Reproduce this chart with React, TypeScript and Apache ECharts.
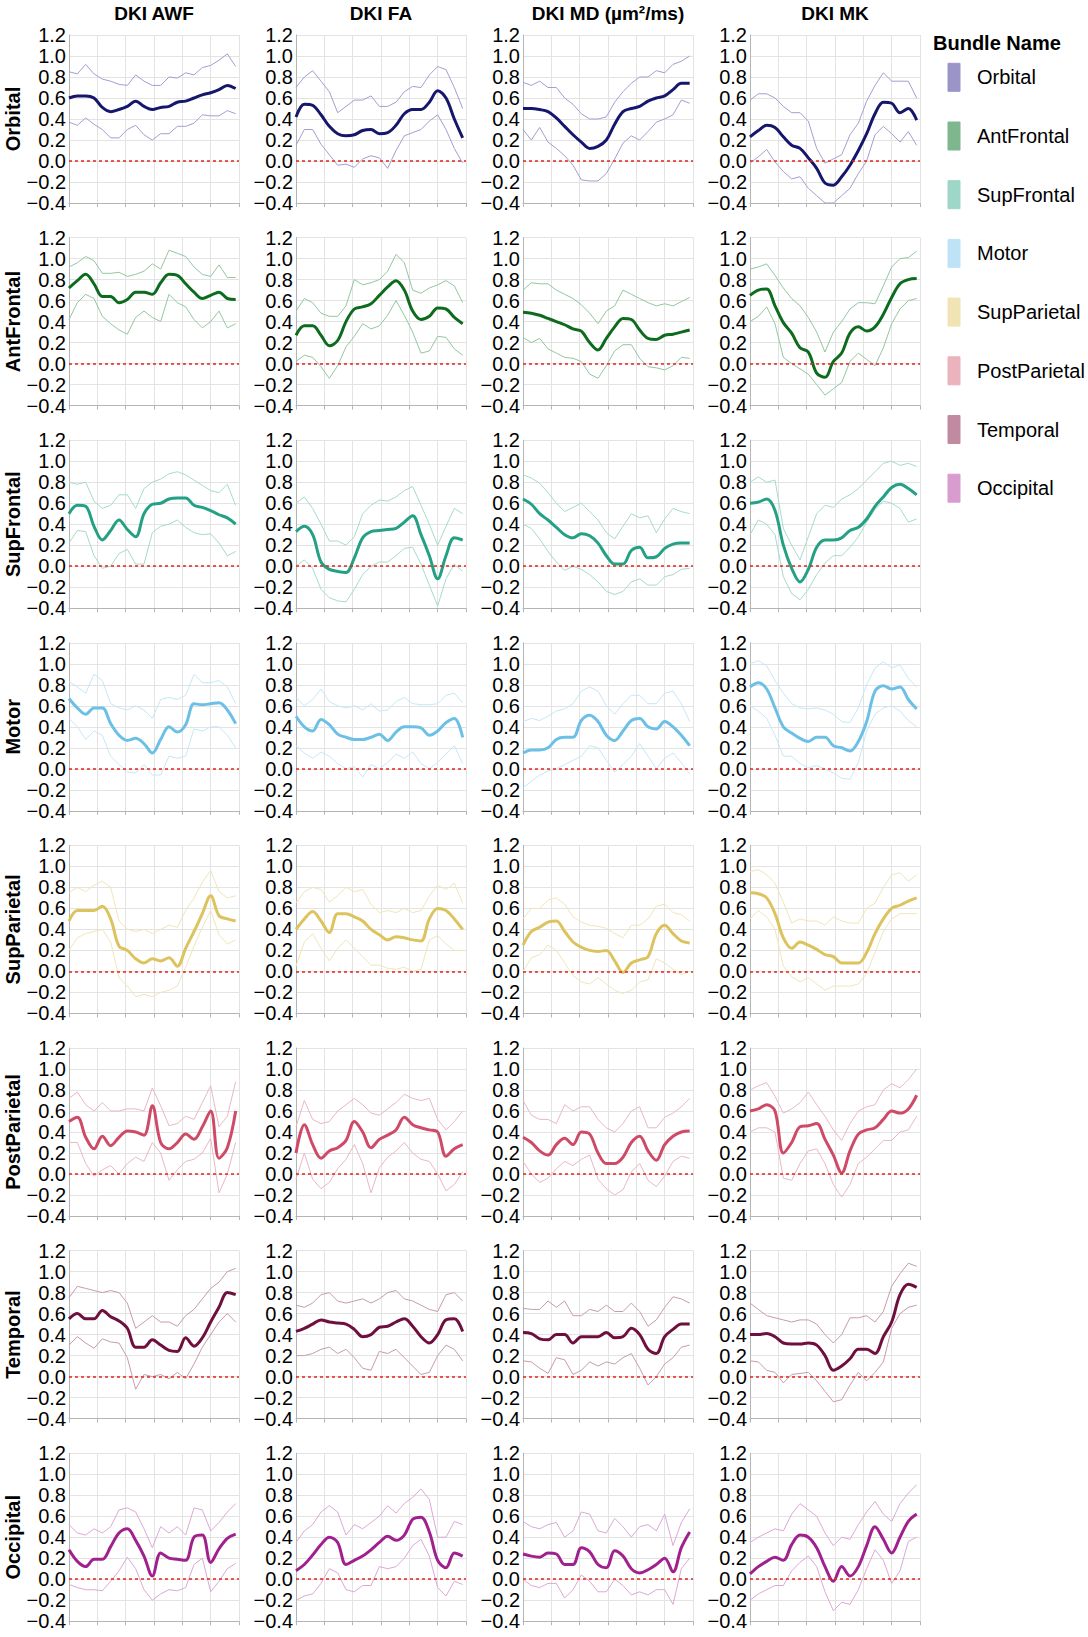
import React, { useEffect, useRef } from "react";
import * as echarts from "echarts";

// x positions along the tract (node position, % of profile)
const nodePositions = [0, 5, 10, 15, 20, 25, 30, 35, 40, 45, 50, 55, 60, 65, 70, 75, 80, 85, 90, 95, 100];

const bundleNames = ["Orbital", "AntFrontal", "SupFrontal", "Motor", "SupParietal", "PostParietal", "Temporal", "Occipital"];
const metricTitles = ["DKI AWF", "DKI FA", "DKI MD (µm²/ms)", "DKI MK"];

const meanColors = ["#16166c", "#0d6b1e", "#24a084", "#6cc0e6", "#dcc35e", "#cf4a67", "#6e0f3e", "#a0218d"];
const bandColors = ["#a29fcf", "#93c7a0", "#a6dacc", "#c6e7f6", "#efe6ba", "#e9b8c2", "#c69cad", "#dca8d5"];
const swatchColors = ["#9b94c9", "#7eb68d", "#9ed6c8", "#bfe3f6", "#f0e4b4", "#eab3bd", "#c28aa1", "#d89ccf"];

// ---- Orbital ----
const orbitalAwfMean = [0.60, 0.62, 0.62, 0.60, 0.51, 0.47, 0.49, 0.52, 0.57, 0.52, 0.49, 0.51, 0.52, 0.56, 0.57, 0.60, 0.63, 0.65, 0.68, 0.72, 0.69];
const orbitalAwfUpper = [0.85, 0.83, 0.92, 0.83, 0.78, 0.76, 0.73, 0.72, 0.82, 0.76, 0.72, 0.72, 0.80, 0.79, 0.84, 0.82, 0.89, 0.91, 0.96, 1.02, 0.90];
const orbitalAwfLower = [0.37, 0.34, 0.41, 0.35, 0.30, 0.22, 0.22, 0.30, 0.34, 0.25, 0.20, 0.26, 0.26, 0.33, 0.33, 0.36, 0.44, 0.43, 0.43, 0.48, 0.45];
const orbitalFaMean = [0.42, 0.54, 0.53, 0.44, 0.33, 0.26, 0.24, 0.25, 0.29, 0.30, 0.26, 0.27, 0.34, 0.45, 0.49, 0.49, 0.56, 0.67, 0.60, 0.40, 0.22];
const orbitalFaUpper = [0.70, 0.80, 0.86, 0.76, 0.66, 0.46, 0.52, 0.58, 0.58, 0.62, 0.52, 0.52, 0.56, 0.66, 0.71, 0.70, 0.82, 0.90, 0.87, 0.70, 0.50];
const orbitalFaLower = [0.15, 0.30, 0.30, 0.16, 0.06, -0.04, -0.03, -0.06, 0.02, 0.05, 0.03, -0.07, 0.10, 0.24, 0.27, 0.30, 0.38, 0.44, 0.30, 0.12, -0.02];
const orbitalMdMean = [0.50, 0.50, 0.49, 0.47, 0.41, 0.33, 0.25, 0.18, 0.12, 0.14, 0.20, 0.35, 0.47, 0.50, 0.52, 0.57, 0.60, 0.62, 0.68, 0.74, 0.74];
const orbitalMdUpper = [0.75, 0.72, 0.76, 0.70, 0.70, 0.60, 0.54, 0.45, 0.40, 0.40, 0.42, 0.56, 0.66, 0.74, 0.80, 0.80, 0.86, 0.84, 0.92, 0.95, 1.00];
const orbitalMdLower = [0.30, 0.20, 0.32, 0.18, 0.12, 0.05, -0.04, -0.18, -0.19, -0.19, -0.12, 0.02, 0.17, 0.24, 0.20, 0.28, 0.37, 0.40, 0.44, 0.58, 0.55];
const orbitalMkMean = [0.23, 0.29, 0.34, 0.32, 0.23, 0.15, 0.12, 0.03, -0.07, -0.21, -0.23, -0.15, -0.04, 0.10, 0.26, 0.45, 0.56, 0.55, 0.46, 0.50, 0.39];
const orbitalMkUpper = [0.58, 0.64, 0.64, 0.60, 0.52, 0.46, 0.46, 0.38, 0.12, -0.02, 0.02, 0.06, 0.25, 0.36, 0.57, 0.72, 0.84, 0.76, 0.76, 0.76, 0.60];
const orbitalMkLower = [-0.02, 0.04, 0.11, -0.01, -0.10, -0.17, -0.15, -0.26, -0.33, -0.40, -0.40, -0.33, -0.26, -0.12, 0.00, 0.25, 0.33, 0.26, 0.18, 0.28, 0.15];

// ---- AntFrontal ----
const antFrontalAwfMean = [0.72, 0.79, 0.85, 0.76, 0.64, 0.64, 0.58, 0.61, 0.68, 0.68, 0.66, 0.77, 0.85, 0.84, 0.76, 0.68, 0.62, 0.65, 0.68, 0.62, 0.61];
const antFrontalAwfUpper = [0.92, 0.96, 1.02, 0.98, 0.86, 0.86, 0.87, 0.83, 0.85, 0.88, 0.95, 0.90, 1.08, 1.05, 1.02, 0.92, 0.85, 0.83, 0.94, 0.82, 0.82];
const antFrontalAwfLower = [0.42, 0.58, 0.66, 0.62, 0.45, 0.38, 0.32, 0.28, 0.44, 0.50, 0.44, 0.40, 0.66, 0.58, 0.54, 0.42, 0.34, 0.40, 0.50, 0.34, 0.38];
const antFrontalFaMean = [0.27, 0.36, 0.36, 0.27, 0.17, 0.22, 0.40, 0.52, 0.54, 0.57, 0.65, 0.73, 0.79, 0.70, 0.50, 0.42, 0.45, 0.53, 0.52, 0.44, 0.38];
const antFrontalFaUpper = [0.50, 0.62, 0.58, 0.48, 0.45, 0.45, 0.55, 0.80, 0.75, 0.77, 0.80, 0.88, 1.04, 0.96, 0.70, 0.67, 0.72, 0.75, 0.79, 0.74, 0.58];
const antFrontalFaLower = [0.02, 0.08, 0.06, -0.03, -0.14, -0.02, 0.16, 0.26, 0.38, 0.33, 0.36, 0.46, 0.60, 0.46, 0.30, 0.10, 0.12, 0.26, 0.25, 0.14, 0.08];
const antFrontalMdMean = [0.49, 0.48, 0.46, 0.43, 0.40, 0.37, 0.33, 0.31, 0.20, 0.13, 0.24, 0.35, 0.43, 0.42, 0.32, 0.24, 0.23, 0.27, 0.28, 0.30, 0.32];
const antFrontalMdUpper = [0.70, 0.77, 0.76, 0.76, 0.70, 0.66, 0.62, 0.56, 0.48, 0.38, 0.50, 0.55, 0.70, 0.66, 0.62, 0.58, 0.55, 0.57, 0.55, 0.59, 0.63];
const antFrontalMdLower = [0.25, 0.20, 0.24, 0.14, 0.10, 0.06, 0.05, 0.02, -0.10, -0.14, -0.02, 0.12, 0.18, 0.18, 0.05, -0.03, -0.04, -0.06, -0.02, 0.06, 0.05];
const antFrontalMkMean = [0.65, 0.70, 0.71, 0.55, 0.39, 0.29, 0.15, 0.11, -0.09, -0.13, 0.02, 0.10, 0.29, 0.35, 0.31, 0.35, 0.47, 0.63, 0.76, 0.80, 0.81];
const antFrontalMkUpper = [0.90, 0.92, 0.95, 0.84, 0.72, 0.62, 0.55, 0.44, 0.30, 0.11, 0.30, 0.40, 0.52, 0.58, 0.58, 0.57, 0.74, 0.92, 1.00, 1.01, 1.07];
const antFrontalMkLower = [0.40, 0.45, 0.54, 0.38, 0.06, 0.00, -0.05, -0.10, -0.20, -0.30, -0.24, -0.18, 0.02, 0.10, 0.04, -0.02, 0.15, 0.38, 0.52, 0.60, 0.62];

// ---- SupFrontal ----
const supFrontalAwfMean = [0.50, 0.58, 0.57, 0.38, 0.25, 0.34, 0.44, 0.35, 0.28, 0.50, 0.59, 0.60, 0.64, 0.65, 0.65, 0.58, 0.56, 0.53, 0.49, 0.46, 0.40];
const supFrontalAwfUpper = [0.80, 0.78, 0.80, 0.62, 0.55, 0.58, 0.68, 0.68, 0.55, 0.74, 0.80, 0.83, 0.88, 0.90, 0.87, 0.82, 0.77, 0.72, 0.70, 0.78, 0.58];
const supFrontalAwfLower = [0.22, 0.34, 0.33, 0.10, -0.02, 0.00, 0.12, 0.16, 0.02, 0.02, 0.32, 0.38, 0.40, 0.44, 0.37, 0.32, 0.30, 0.31, 0.22, 0.10, 0.14];
const supFrontalFaMean = [0.33, 0.38, 0.30, 0.04, -0.03, -0.05, -0.06, 0.08, 0.27, 0.33, 0.34, 0.35, 0.36, 0.42, 0.48, 0.30, 0.10, -0.12, 0.10, 0.27, 0.25];
const supFrontalFaUpper = [0.60, 0.66, 0.55, 0.40, 0.24, 0.24, 0.20, 0.28, 0.50, 0.58, 0.63, 0.62, 0.66, 0.72, 0.76, 0.58, 0.40, 0.20, 0.38, 0.55, 0.50];
const supFrontalFaLower = [0.00, 0.06, -0.02, -0.22, -0.30, -0.33, -0.34, -0.22, -0.08, 0.00, 0.04, 0.04, 0.10, 0.17, 0.18, 0.02, -0.18, -0.38, -0.12, 0.02, -0.05];
const supFrontalMdMean = [0.64, 0.59, 0.50, 0.44, 0.37, 0.30, 0.27, 0.31, 0.29, 0.22, 0.10, 0.02, 0.02, 0.15, 0.18, 0.08, 0.09, 0.17, 0.21, 0.22, 0.22];
const supFrontalMdUpper = [0.87, 0.84, 0.79, 0.70, 0.60, 0.52, 0.56, 0.60, 0.52, 0.44, 0.32, 0.26, 0.38, 0.50, 0.46, 0.48, 0.32, 0.45, 0.55, 0.52, 0.50];
const supFrontalMdLower = [0.40, 0.36, 0.26, 0.14, 0.04, -0.04, 0.00, -0.03, -0.08, -0.15, -0.24, -0.27, -0.24, -0.15, -0.12, -0.18, -0.18, -0.10, -0.08, -0.03, -0.02];
const supFrontalMkMean = [0.60, 0.61, 0.64, 0.53, 0.20, -0.02, -0.15, -0.03, 0.18, 0.25, 0.25, 0.27, 0.34, 0.37, 0.45, 0.57, 0.66, 0.75, 0.78, 0.74, 0.68];
const supFrontalMkUpper = [0.80, 0.85, 0.80, 0.82, 0.36, 0.20, 0.06, 0.28, 0.50, 0.58, 0.56, 0.64, 0.68, 0.74, 0.82, 0.90, 0.98, 1.00, 0.96, 0.98, 0.95];
const supFrontalMkLower = [0.30, 0.44, 0.40, 0.30, -0.10, -0.26, -0.32, -0.22, -0.08, 0.03, 0.10, 0.10, 0.18, 0.28, 0.42, 0.54, 0.62, 0.60, 0.55, 0.42, 0.45];

// ---- Motor ----
const motorAwfMean = [0.67, 0.58, 0.52, 0.58, 0.58, 0.43, 0.32, 0.27, 0.29, 0.24, 0.15, 0.28, 0.40, 0.35, 0.42, 0.62, 0.61, 0.62, 0.63, 0.56, 0.43];
const motorAwfUpper = [0.83, 0.78, 0.72, 0.90, 0.84, 0.62, 0.58, 0.56, 0.60, 0.56, 0.48, 0.66, 0.68, 0.66, 0.70, 0.90, 0.82, 0.82, 0.84, 0.78, 0.62];
const motorAwfLower = [0.48, 0.40, 0.28, 0.36, 0.32, 0.12, 0.04, -0.03, -0.04, 0.04, -0.06, -0.06, 0.12, 0.10, 0.12, 0.38, 0.36, 0.40, 0.40, 0.32, 0.20];
const motorFaMean = [0.50, 0.40, 0.36, 0.47, 0.42, 0.33, 0.30, 0.28, 0.28, 0.30, 0.33, 0.27, 0.35, 0.40, 0.40, 0.39, 0.32, 0.36, 0.44, 0.48, 0.30];
const motorFaUpper = [0.68, 0.60, 0.66, 0.76, 0.64, 0.60, 0.58, 0.60, 0.56, 0.62, 0.55, 0.56, 0.64, 0.68, 0.62, 0.61, 0.61, 0.62, 0.70, 0.72, 0.63];
const motorFaLower = [0.22, 0.15, 0.10, 0.16, 0.12, 0.05, 0.00, 0.02, -0.08, 0.04, 0.00, 0.06, 0.14, 0.10, 0.16, 0.05, 0.00, 0.06, 0.14, 0.22, 0.05];
const motorMdMean = [0.15, 0.18, 0.18, 0.20, 0.28, 0.30, 0.30, 0.46, 0.51, 0.45, 0.32, 0.27, 0.36, 0.46, 0.48, 0.40, 0.38, 0.45, 0.40, 0.32, 0.22];
const motorMdUpper = [0.45, 0.48, 0.46, 0.50, 0.55, 0.57, 0.62, 0.74, 0.78, 0.74, 0.60, 0.52, 0.62, 0.70, 0.70, 0.62, 0.62, 0.72, 0.74, 0.62, 0.45];
const motorMdLower = [-0.18, -0.12, -0.06, -0.02, 0.00, 0.04, 0.08, 0.12, 0.22, 0.20, 0.08, -0.03, 0.04, 0.12, 0.24, 0.12, 0.00, 0.10, 0.15, 0.06, -0.05];
const motorMkMean = [0.78, 0.82, 0.76, 0.58, 0.40, 0.34, 0.29, 0.26, 0.30, 0.30, 0.22, 0.20, 0.17, 0.26, 0.45, 0.74, 0.79, 0.76, 0.78, 0.66, 0.57];
const motorMkUpper = [1.00, 1.03, 0.98, 0.84, 0.72, 0.62, 0.58, 0.57, 0.58, 0.56, 0.52, 0.45, 0.44, 0.58, 0.80, 0.96, 1.02, 0.96, 0.99, 0.86, 0.78];
const motorMkLower = [0.60, 0.55, 0.48, 0.32, 0.12, 0.12, 0.05, 0.01, 0.03, 0.00, -0.04, -0.09, -0.10, 0.06, 0.36, 0.52, 0.58, 0.60, 0.55, 0.46, 0.40];

// ---- SupParietal ----
const supParietalAwfMean = [0.48, 0.58, 0.58, 0.58, 0.62, 0.50, 0.24, 0.20, 0.12, 0.08, 0.12, 0.10, 0.13, 0.05, 0.22, 0.38, 0.55, 0.72, 0.53, 0.50, 0.48];
const supParietalAwfUpper = [0.75, 0.80, 0.76, 0.82, 0.86, 0.80, 0.48, 0.40, 0.38, 0.40, 0.36, 0.40, 0.44, 0.42, 0.58, 0.70, 0.85, 0.96, 0.76, 0.70, 0.72];
const supParietalAwfLower = [0.20, 0.32, 0.36, 0.38, 0.40, 0.28, -0.06, -0.14, -0.24, -0.22, -0.24, -0.20, -0.18, -0.14, 0.04, 0.24, 0.42, 0.58, 0.35, 0.26, 0.30];
const supParietalFaMean = [0.40, 0.50, 0.57, 0.48, 0.37, 0.55, 0.55, 0.52, 0.48, 0.40, 0.35, 0.30, 0.33, 0.32, 0.30, 0.29, 0.50, 0.60, 0.58, 0.50, 0.40];
const supParietalFaUpper = [0.65, 0.76, 0.80, 0.78, 0.66, 0.72, 0.80, 0.76, 0.78, 0.64, 0.56, 0.58, 0.56, 0.60, 0.56, 0.58, 0.72, 0.82, 0.78, 0.84, 0.65];
const supParietalFaLower = [0.05, 0.28, 0.36, 0.22, 0.10, 0.22, 0.30, 0.22, 0.14, 0.06, 0.06, 0.03, 0.02, 0.04, 0.00, 0.02, 0.30, 0.34, 0.26, 0.20, 0.20];
const supParietalMdMean = [0.25, 0.38, 0.42, 0.47, 0.48, 0.38, 0.28, 0.23, 0.20, 0.19, 0.20, 0.10, -0.01, 0.08, 0.11, 0.14, 0.36, 0.44, 0.36, 0.29, 0.27];
const supParietalMdUpper = [0.50, 0.60, 0.60, 0.68, 0.70, 0.64, 0.52, 0.47, 0.44, 0.43, 0.41, 0.36, 0.32, 0.44, 0.44, 0.50, 0.62, 0.64, 0.56, 0.54, 0.48];
const supParietalMdLower = [0.00, 0.13, 0.16, 0.25, 0.20, 0.08, -0.04, -0.10, -0.12, -0.06, -0.12, -0.18, -0.21, -0.18, -0.10, -0.08, 0.12, 0.08, 0.02, -0.03, 0.00];
const supParietalMkMean = [0.75, 0.74, 0.70, 0.55, 0.32, 0.22, 0.28, 0.25, 0.21, 0.16, 0.14, 0.08, 0.08, 0.08, 0.18, 0.36, 0.50, 0.60, 0.63, 0.67, 0.70];
const supParietalMkUpper = [0.95, 0.97, 0.92, 0.84, 0.66, 0.46, 0.50, 0.48, 0.48, 0.44, 0.52, 0.48, 0.46, 0.46, 0.60, 0.65, 0.80, 0.92, 0.94, 0.86, 0.92];
const supParietalMkLower = [0.50, 0.58, 0.52, 0.40, 0.05, -0.05, -0.10, -0.06, -0.12, -0.18, -0.14, -0.14, -0.14, -0.12, -0.02, 0.18, 0.38, 0.50, 0.55, 0.55, 0.55];

// ---- PostParietal ----
const postParietalAwfMean = [0.50, 0.54, 0.35, 0.24, 0.36, 0.27, 0.35, 0.41, 0.40, 0.37, 0.65, 0.30, 0.24, 0.30, 0.38, 0.33, 0.45, 0.60, 0.15, 0.25, 0.60];
const postParietalAwfUpper = [0.72, 0.78, 0.66, 0.60, 0.68, 0.60, 0.60, 0.62, 0.62, 0.60, 0.82, 0.65, 0.46, 0.48, 0.55, 0.52, 0.68, 0.84, 0.45, 0.55, 0.88];
const postParietalAwfLower = [0.30, 0.30, 0.10, -0.02, 0.04, 0.08, 0.00, 0.10, 0.16, 0.12, 0.30, 0.20, -0.06, 0.04, 0.12, 0.14, 0.20, 0.34, -0.18, 0.00, 0.30];
const postParietalFaMean = [0.20, 0.47, 0.28, 0.15, 0.22, 0.25, 0.32, 0.50, 0.40, 0.25, 0.33, 0.37, 0.42, 0.54, 0.47, 0.44, 0.42, 0.40, 0.17, 0.24, 0.28];
const postParietalFaUpper = [0.45, 0.70, 0.52, 0.48, 0.50, 0.60, 0.66, 0.72, 0.66, 0.58, 0.56, 0.62, 0.68, 0.76, 0.72, 0.70, 0.72, 0.52, 0.42, 0.50, 0.60];
const postParietalFaLower = [-0.05, 0.20, -0.05, -0.14, -0.08, 0.05, 0.14, 0.28, 0.10, -0.18, 0.06, 0.16, 0.22, 0.30, 0.20, 0.14, 0.12, 0.00, -0.16, -0.10, 0.02];
const postParietalMdMean = [0.35, 0.30, 0.22, 0.18, 0.28, 0.34, 0.28, 0.40, 0.38, 0.20, 0.10, 0.10, 0.16, 0.30, 0.36, 0.22, 0.13, 0.28, 0.36, 0.40, 0.41];
const postParietalMdUpper = [0.70, 0.56, 0.52, 0.52, 0.48, 0.66, 0.60, 0.64, 0.64, 0.52, 0.44, 0.40, 0.48, 0.60, 0.64, 0.44, 0.44, 0.54, 0.58, 0.64, 0.72];
const postParietalMdLower = [0.12, 0.00, -0.08, -0.04, 0.05, 0.12, 0.08, 0.14, 0.18, -0.05, -0.14, -0.20, -0.15, 0.02, 0.10, -0.06, -0.12, -0.02, 0.12, 0.17, 0.15];
const postParietalMkMean = [0.60, 0.62, 0.66, 0.60, 0.20, 0.30, 0.45, 0.46, 0.48, 0.33, 0.18, 0.01, 0.22, 0.38, 0.42, 0.44, 0.52, 0.60, 0.58, 0.62, 0.75];
const postParietalMkUpper = [0.80, 0.84, 0.87, 0.74, 0.58, 0.62, 0.68, 0.78, 0.66, 0.55, 0.42, 0.32, 0.48, 0.60, 0.64, 0.66, 0.80, 0.86, 0.82, 0.90, 1.00];
const postParietalMkLower = [0.40, 0.44, 0.44, 0.40, -0.04, -0.06, 0.10, 0.22, 0.24, 0.10, -0.10, -0.22, -0.10, 0.10, 0.16, 0.24, 0.32, 0.32, 0.40, 0.42, 0.55];

// ---- Temporal ----
const temporalAwfMean = [0.55, 0.60, 0.55, 0.55, 0.63, 0.57, 0.53, 0.46, 0.28, 0.28, 0.35, 0.30, 0.25, 0.24, 0.37, 0.29, 0.37, 0.52, 0.66, 0.80, 0.78];
const temporalAwfUpper = [0.75, 0.86, 0.84, 0.82, 0.80, 0.82, 0.80, 0.70, 0.46, 0.52, 0.58, 0.52, 0.52, 0.48, 0.58, 0.64, 0.74, 0.84, 0.90, 1.00, 1.03];
const temporalAwfLower = [0.30, 0.38, 0.32, 0.27, 0.36, 0.33, 0.32, 0.18, -0.12, 0.02, 0.00, 0.02, -0.02, 0.04, -0.02, 0.12, 0.28, 0.40, 0.52, 0.60, 0.52];
const temporalFaMean = [0.43, 0.46, 0.50, 0.54, 0.52, 0.51, 0.50, 0.45, 0.38, 0.40, 0.47, 0.48, 0.52, 0.55, 0.48, 0.38, 0.32, 0.40, 0.54, 0.55, 0.43];
const temporalFaUpper = [0.68, 0.66, 0.70, 0.78, 0.80, 0.72, 0.70, 0.72, 0.74, 0.70, 0.74, 0.80, 0.82, 0.74, 0.72, 0.68, 0.64, 0.62, 0.78, 0.80, 0.72];
const temporalFaLower = [0.20, 0.20, 0.22, 0.26, 0.28, 0.22, 0.26, 0.18, 0.08, 0.06, 0.24, 0.22, 0.26, 0.18, 0.10, 0.02, 0.04, 0.20, 0.30, 0.26, 0.15];
const temporalMdMean = [0.42, 0.41, 0.36, 0.35, 0.40, 0.40, 0.32, 0.38, 0.38, 0.38, 0.42, 0.37, 0.38, 0.46, 0.40, 0.26, 0.22, 0.38, 0.45, 0.50, 0.50];
const temporalMdUpper = [0.65, 0.64, 0.64, 0.72, 0.66, 0.72, 0.58, 0.58, 0.64, 0.62, 0.68, 0.62, 0.62, 0.70, 0.62, 0.48, 0.54, 0.66, 0.76, 0.74, 0.70];
const temporalMdLower = [0.15, 0.14, 0.08, 0.03, 0.18, 0.16, 0.02, 0.06, 0.14, 0.10, 0.14, 0.12, 0.18, 0.22, 0.08, -0.08, 0.00, 0.12, 0.18, 0.28, 0.30];
const temporalMkMean = [0.40, 0.40, 0.41, 0.38, 0.32, 0.31, 0.31, 0.32, 0.30, 0.20, 0.06, 0.10, 0.17, 0.26, 0.26, 0.22, 0.38, 0.52, 0.78, 0.88, 0.85];
const temporalMkUpper = [0.70, 0.64, 0.58, 0.56, 0.54, 0.52, 0.54, 0.54, 0.50, 0.40, 0.32, 0.40, 0.56, 0.56, 0.58, 0.52, 0.62, 0.86, 0.98, 1.08, 1.05];
const temporalMkLower = [0.15, 0.14, 0.06, 0.04, -0.06, 0.02, 0.03, 0.04, -0.04, -0.14, -0.24, -0.22, -0.08, 0.04, -0.04, 0.04, 0.14, 0.46, 0.60, 0.66, 0.68];

// ---- Occipital ----
const occipitalAwfMean = [0.28, 0.17, 0.12, 0.19, 0.19, 0.31, 0.44, 0.48, 0.37, 0.22, 0.03, 0.25, 0.20, 0.19, 0.18, 0.40, 0.42, 0.16, 0.29, 0.39, 0.43];
const occipitalAwfUpper = [0.52, 0.44, 0.42, 0.48, 0.44, 0.50, 0.66, 0.68, 0.64, 0.48, 0.30, 0.50, 0.44, 0.50, 0.42, 0.68, 0.66, 0.46, 0.54, 0.64, 0.72];
const occipitalAwfLower = [-0.05, -0.08, -0.10, -0.10, -0.11, -0.02, 0.08, 0.21, 0.10, -0.10, -0.20, -0.14, -0.10, -0.11, -0.08, 0.14, 0.20, -0.12, -0.02, 0.10, 0.15];
const occipitalFaMean = [0.08, 0.14, 0.23, 0.33, 0.40, 0.35, 0.14, 0.18, 0.22, 0.28, 0.35, 0.41, 0.37, 0.42, 0.57, 0.59, 0.45, 0.18, 0.11, 0.25, 0.22];
const occipitalFaUpper = [0.35, 0.46, 0.52, 0.64, 0.70, 0.64, 0.42, 0.52, 0.48, 0.54, 0.60, 0.70, 0.63, 0.72, 0.78, 0.86, 0.76, 0.40, 0.40, 0.55, 0.52];
const occipitalFaLower = [-0.20, -0.16, -0.14, -0.04, 0.10, 0.06, -0.10, -0.12, -0.06, -0.06, 0.12, 0.10, 0.12, 0.20, 0.32, 0.38, 0.22, -0.08, -0.16, -0.02, -0.05];
const occipitalMdMean = [0.24, 0.22, 0.21, 0.25, 0.24, 0.14, 0.14, 0.30, 0.26, 0.14, 0.11, 0.27, 0.22, 0.10, 0.06, 0.09, 0.14, 0.20, 0.07, 0.30, 0.45];
const occipitalMdUpper = [0.55, 0.50, 0.48, 0.52, 0.54, 0.40, 0.46, 0.64, 0.62, 0.46, 0.44, 0.58, 0.50, 0.40, 0.50, 0.52, 0.46, 0.62, 0.32, 0.54, 0.67];
const occipitalMdLower = [0.00, -0.06, -0.08, -0.04, -0.04, -0.18, -0.10, 0.04, -0.02, -0.12, -0.12, 0.00, -0.06, -0.15, -0.12, -0.15, -0.10, -0.10, -0.24, 0.10, 0.20];
const occipitalMkMean = [0.05, 0.12, 0.17, 0.21, 0.18, 0.33, 0.42, 0.40, 0.30, 0.12, -0.02, 0.12, 0.03, 0.12, 0.32, 0.50, 0.38, 0.25, 0.40, 0.55, 0.62];
const occipitalMkUpper = [0.35, 0.40, 0.44, 0.48, 0.46, 0.62, 0.72, 0.66, 0.60, 0.44, 0.32, 0.40, 0.38, 0.52, 0.64, 0.74, 0.62, 0.55, 0.72, 0.82, 0.90];
const occipitalMkLower = [-0.20, -0.14, -0.10, -0.06, -0.06, 0.08, 0.16, 0.22, 0.12, -0.12, -0.30, -0.22, -0.24, -0.10, 0.10, 0.28, 0.18, -0.04, 0.08, 0.36, 0.40];

// table [bundle][metric] -> [mean, upper, lower]
const profileTable: number[][][][] = [
  [[orbitalAwfMean, orbitalAwfUpper, orbitalAwfLower], [orbitalFaMean, orbitalFaUpper, orbitalFaLower], [orbitalMdMean, orbitalMdUpper, orbitalMdLower], [orbitalMkMean, orbitalMkUpper, orbitalMkLower]],
  [[antFrontalAwfMean, antFrontalAwfUpper, antFrontalAwfLower], [antFrontalFaMean, antFrontalFaUpper, antFrontalFaLower], [antFrontalMdMean, antFrontalMdUpper, antFrontalMdLower], [antFrontalMkMean, antFrontalMkUpper, antFrontalMkLower]],
  [[supFrontalAwfMean, supFrontalAwfUpper, supFrontalAwfLower], [supFrontalFaMean, supFrontalFaUpper, supFrontalFaLower], [supFrontalMdMean, supFrontalMdUpper, supFrontalMdLower], [supFrontalMkMean, supFrontalMkUpper, supFrontalMkLower]],
  [[motorAwfMean, motorAwfUpper, motorAwfLower], [motorFaMean, motorFaUpper, motorFaLower], [motorMdMean, motorMdUpper, motorMdLower], [motorMkMean, motorMkUpper, motorMkLower]],
  [[supParietalAwfMean, supParietalAwfUpper, supParietalAwfLower], [supParietalFaMean, supParietalFaUpper, supParietalFaLower], [supParietalMdMean, supParietalMdUpper, supParietalMdLower], [supParietalMkMean, supParietalMkUpper, supParietalMkLower]],
  [[postParietalAwfMean, postParietalAwfUpper, postParietalAwfLower], [postParietalFaMean, postParietalFaUpper, postParietalFaLower], [postParietalMdMean, postParietalMdUpper, postParietalMdLower], [postParietalMkMean, postParietalMkUpper, postParietalMkLower]],
  [[temporalAwfMean, temporalAwfUpper, temporalAwfLower], [temporalFaMean, temporalFaUpper, temporalFaLower], [temporalMdMean, temporalMdUpper, temporalMdLower], [temporalMkMean, temporalMkUpper, temporalMkLower]],
  [[occipitalAwfMean, occipitalAwfUpper, occipitalAwfLower], [occipitalFaMean, occipitalFaUpper, occipitalFaLower], [occipitalMdMean, occipitalMdUpper, occipitalMdLower], [occipitalMkMean, occipitalMkUpper, occipitalMkLower]],
];

const FONT = '"Liberation Sans", Arial, Helvetica, sans-serif';
const COL_LEFT = [69, 296, 523, 750];
const PLOT_W = 170;
const ROW_TOP0 = 35;
const ROW_PITCH = 202.6;
const PLOT_H = 168;

function fmtTick(v: number): string {
  if (Math.abs(v) < 1e-9) return "0.0";
  return (v < 0 ? "\u2212" : "") + Math.abs(v).toFixed(1);
}

function zip(xs: number[], ys: number[]) {
  return xs.map((x, i) => [x, ys[i]]);
}

function buildOption() {
  const grid: any[] = [];
  const xAxis: any[] = [];
  const yAxis: any[] = [];
  const series: any[] = [];
  const graphic: any[] = [];

  bundleNames.forEach((bundle, b) => {
    metricTitles.forEach((_m, m) => {
      const idx = b * 4 + m;
      grid.push({ left: COL_LEFT[m], top: ROW_TOP0 + ROW_PITCH * b, width: PLOT_W, height: PLOT_H, containLabel: false });
      xAxis.push({
        gridIndex: idx, type: "value", min: 0, max: 102, interval: 17,
        axisLabel: { show: false },
        axisLine: { show: true, onZero: false, lineStyle: { color: "#b5b5b5", width: 1 } },
        axisTick: { show: true, length: 4, lineStyle: { color: "#b5b5b5" } },
        splitLine: { show: true, lineStyle: { color: "#e3e3e3", width: 1 } },
      });
      yAxis.push({
        gridIndex: idx, type: "value", min: -0.4, max: 1.2, interval: 0.2,
        axisLabel: { show: true, formatter: fmtTick, fontSize: 20, color: "#000", fontFamily: FONT, margin: 3 },
        axisLine: { show: true, lineStyle: { color: "#b5b5b5", width: 1 } },
        axisTick: { show: false },
        splitLine: { show: true, lineStyle: { color: "#e3e3e3", width: 1 } },
      });
      const [meanVals, upperVals, lowerVals] = profileTable[b][m];
      series.push({
        type: "line", name: bundle + " lower", xAxisIndex: idx, yAxisIndex: idx,
        data: zip(nodePositions, lowerVals), showSymbol: false, symbol: "none", silent: true, z: 2,
        lineStyle: { width: 1, color: bandColors[b] }, itemStyle: { color: bandColors[b] },
      });
      series.push({
        type: "line", name: bundle + " upper", xAxisIndex: idx, yAxisIndex: idx,
        data: zip(nodePositions, upperVals), showSymbol: false, symbol: "none", silent: true, z: 2,
        lineStyle: { width: 1, color: bandColors[b] }, itemStyle: { color: bandColors[b] },
      });
      series.push({
        type: "line", name: bundle, xAxisIndex: idx, yAxisIndex: idx,
        data: zip(nodePositions, meanVals), showSymbol: false, symbol: "none", silent: true, z: 4,
        smooth: 0.35,
        lineStyle: { width: 3, color: meanColors[b] }, itemStyle: { color: meanColors[b] },
        markLine: {
          silent: true, symbol: ["none", "none"], label: { show: false }, animation: false,
          lineStyle: { color: "#e3241d", type: [3, 3], width: 1.6 },
          data: [{ yAxis: 0 }],
        },
      });
    });
  });

  // column titles
  metricTitles.forEach((t, m) => {
    graphic.push({
      type: "text", x: COL_LEFT[m] + PLOT_W / 2, y: 13, silent: true,
      style: { text: t, font: `bold 19px ${FONT}`, fill: "#000", align: "center", verticalAlign: "middle", textAlign: "center", textVerticalAlign: "middle" },
    });
  });
  // row labels
  bundleNames.forEach((name, b) => {
    graphic.push({
      type: "text", x: 13, y: ROW_TOP0 + ROW_PITCH * b + PLOT_H / 2, rotation: Math.PI / 2, silent: true,
      style: { text: name, font: `bold 20px ${FONT}`, fill: "#000", align: "center", verticalAlign: "middle", textAlign: "center", textVerticalAlign: "middle" },
    });
  });
  // legend
  graphic.push({
    type: "text", x: 933, y: 43, silent: true,
    style: { text: "Bundle Name", font: `bold 20px ${FONT}`, fill: "#000", align: "left", verticalAlign: "middle", textAlign: "left", textVerticalAlign: "middle" },
  });
  bundleNames.forEach((name, b) => {
    const cy = 77.3 + 58.7 * b;
    graphic.push({
      type: "rect", silent: true,
      shape: { x: 948, y: cy - 14, width: 12, height: 28 },
      style: { fill: swatchColors[b], stroke: swatchColors[b], lineWidth: 1, opacity: 1 },
    });
    graphic.push({
      type: "text", x: 977, y: cy, silent: true,
      style: { text: name, font: `20px ${FONT}`, fill: "#000", align: "left", verticalAlign: "middle", textAlign: "left", textVerticalAlign: "middle" },
    });
  });

  return {
    animation: false,
    backgroundColor: "#ffffff",
    grid, xAxis, yAxis, series, graphic,
  };
}

export default function App() {
  const ref = useRef<HTMLDivElement>(null);
  useEffect(() => {
    document.body.style.margin = "0";
    document.body.style.overflow = "hidden";
    const chart = echarts.init(ref.current as HTMLDivElement, null, { renderer: "svg" });
    chart.setOption(buildOption() as any);
    return () => {
      chart.dispose();
    };
  }, []);
  return <div ref={ref} style={{ width: 1088, height: 1637 }} />;
}
